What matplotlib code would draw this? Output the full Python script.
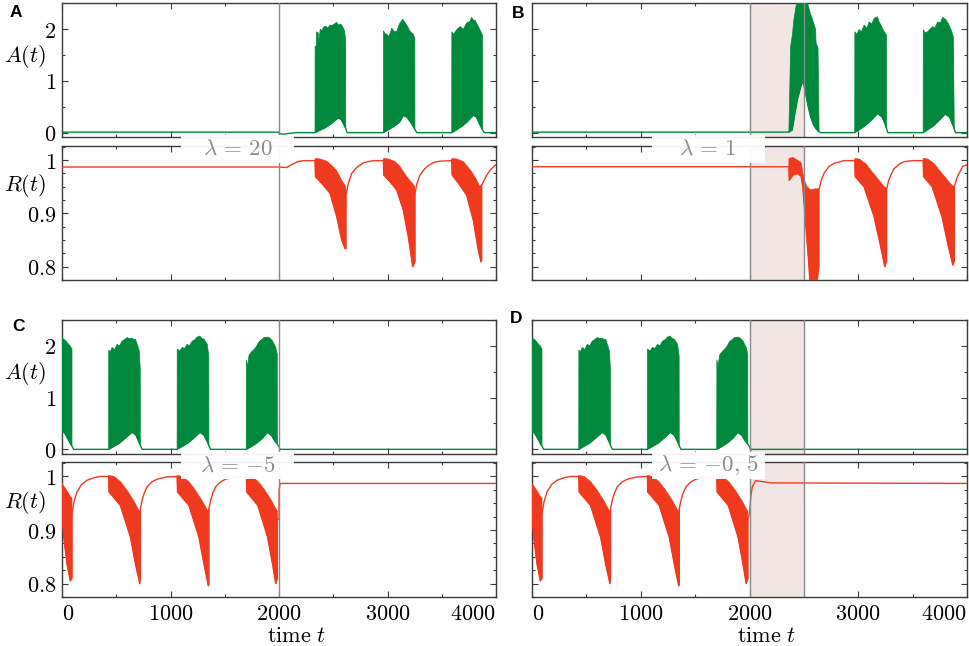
import numpy as np
import matplotlib
matplotlib.use('Agg')
import matplotlib.pyplot as plt
from matplotlib.patches import Rectangle
from matplotlib.ticker import MultipleLocator

plt.rcParams['mathtext.fontset'] = 'cm'
plt.rcParams['font.family'] = 'DejaVu Serif'

GREEN = '#00893c'
RED = '#f03a1f'
SPINE = '#3a3a3a'

# ---------------- panel A (lambda = 20) ----------------
a_amp_t = [0, 1995, 2000, 2030, 2080, 2150, 2332, 2380, 2430, 2480, 2520, 2545, 2570, 2595, 2615, 2628,
           2962, 3010, 3060, 3110, 3146, 3180, 3220, 3253, 3269,
           3592, 3640, 3690, 3740, 3791, 3820, 3850, 3877, 3893, 4010]
a_amp_v = [0.01, 0.01, -0.01, -0.03, -0.02, 0.0, 0.0, 0.05, 0.1, 0.17, 0.24, 0.28, 0.26, 0.17, 0.08, 0.0,
           0.0, 0.06, 0.12, 0.2, 0.33, 0.3, 0.18, 0.06, 0.0,
           0.0, 0.06, 0.13, 0.22, 0.34, 0.3, 0.16, 0.05, 0.0, 0.0]
a_amp_bursts = [
    ([2332, 2333, 2344, 2346, 2362, 2364, 2378, 2380, 2395, 2412, 2430, 2450, 2470, 2490, 2510, 2530, 2550,
      2570, 2590, 2605, 2614, 2615],
     [0.0, 1.67, 1.67, 1.95, 1.93, 1.72, 1.95, 2.0, 1.97, 2.04, 2.06, 2.02, 2.08, 2.07, 2.1, 2.13, 2.08,
      2.1, 2.03, 1.96, 1.77, 0.08]),
    ([2962, 2963, 2975, 2993, 3010, 3025, 3039, 3060, 3085, 3100, 3115, 3140, 3161, 3185, 3207, 3238, 3252, 3253],
     [0.0, 1.97, 1.92, 1.9, 1.86, 1.92, 2.02, 1.96, 1.95, 2.05, 2.12, 2.19, 2.13, 2.05, 1.96, 1.9, 1.82, 0.06]),
    ([3592, 3593, 3610, 3638, 3669, 3700, 3730, 3760, 3776, 3790, 3807, 3838, 3860, 3876, 3877],
     [0.0, 1.95, 1.9, 1.99, 2.05, 2.0, 2.12, 2.15, 2.23, 2.18, 2.17, 2.05, 1.95, 1.88, 0.05]),
]
a_r_t = [0, 2000, 2070, 2120, 2170, 2224, 2332,
         2336, 2400, 2470, 2532, 2578, 2609, 2617, 2617, 2639, 2670, 2716, 2777, 2869, 2962,
         2966, 3020, 3085, 3146, 3192, 3233, 3253, 3253, 3270, 3300, 3340, 3377, 3430, 3484, 3592,
         3596, 3660, 3730, 3791, 3837, 3862, 3868, 3868, 3890, 3915, 3950, 3991, 4010]
a_r_v = [0.987, 0.987, 0.986, 0.992, 0.997, 0.999, 0.999,
         0.969, 0.955, 0.938, 0.894, 0.85, 0.834, 0.834, 0.934, 0.956, 0.975, 0.986, 0.995, 0.999, 0.999,
         0.972, 0.96, 0.944, 0.906, 0.856, 0.80, 0.81, 0.937, 0.955, 0.972, 0.983, 0.99, 0.996, 0.998, 0.999,
         0.972, 0.955, 0.934, 0.887, 0.831, 0.809, 0.812, 0.953, 0.962, 0.972, 0.982, 0.99, 0.992]
a_r_bursts = [
    ([2332, 2333, 2380, 2440, 2485, 2532, 2578, 2610, 2617],
     [0.999, 1.003, 1.002, 0.998, 0.99, 0.98, 0.962, 0.952, 0.945]),
    ([2962, 2963, 3010, 3070, 3115, 3146, 3192, 3230, 3253],
     [0.999, 1.003, 1.002, 0.997, 0.988, 0.978, 0.965, 0.956, 0.95]),
    ([3592, 3593, 3640, 3700, 3745, 3776, 3820, 3852, 3868],
     [0.999, 1.003, 1.002, 0.997, 0.986, 0.978, 0.963, 0.95, 0.955]),
]

# ---------------- panel B (lambda = 1) ----------------
b_amp_t = [0, 2362, 2393, 2420, 2440, 2470, 2491, 2500, 2516, 2540, 2562, 2585, 2608, 2630, 2654,
           2968, 3010, 3060, 3120, 3177, 3220, 3250, 3260, 3272,
           3597, 3640, 3690, 3740, 3800, 3840, 3870, 3883, 3895, 4010]
b_amp_v = [0.01, 0.01, 0.05, 0.4, 0.63, 0.88, 0.99, 0.93, 0.76, 0.5, 0.31, 0.17, 0.085, 0.03, 0.0,
           0.0, 0.06, 0.13, 0.24, 0.37, 0.3, 0.15, 0.08, 0.0,
           0.0, 0.06, 0.13, 0.23, 0.36, 0.3, 0.15, 0.07, 0.0, 0.0]
b_amp_bursts = [
    ([2362, 2370, 2378, 2395, 2408, 2425, 2440, 2525, 2540, 2560, 2580, 2600, 2608, 2612, 2630, 2640],
     [0.01, 0.8, 1.66, 1.9, 2.18, 2.4, 2.6, 2.6, 2.45, 2.3, 2.18, 2.05, 1.99, 1.73, 1.64, 0.02]),
    ([2968, 2969, 2985, 3008, 3030, 3054, 3080, 3100, 3125, 3146, 3177, 3190, 3208, 3238, 3259, 3260],
     [0.0, 1.95, 1.9, 1.99, 1.95, 2.08, 2.02, 2.14, 2.1, 2.21, 2.24, 2.15, 2.08, 1.95, 1.89, 0.08]),
    ([3597, 3598, 3615, 3638, 3660, 3684, 3705, 3730, 3755, 3776, 3807, 3830, 3853, 3875, 3883],
     [0.0, 1.99, 1.93, 1.95, 2.0, 2.05, 2.02, 2.14, 2.12, 2.23, 2.18, 2.1, 1.99, 1.85, 0.07]),
]
b_r_t = [0, 2362, 2366, 2400, 2440, 2475, 2490, 2519, 2547, 2560, 2620, 2630, 2638, 2638,
         2660, 2685, 2730, 2777, 2870, 2968,
         2972, 3053, 3146, 3207, 3244, 3260, 3260, 3280, 3300, 3330, 3380, 3422, 3500, 3597,
         3601, 3680, 3770, 3830, 3870, 3883, 3883, 3910, 3935, 3960, 4010]
b_r_v = [0.9875, 0.9875, 0.962, 0.972, 0.975, 0.97, 0.95, 0.875, 0.80, 0.76, 0.76, 0.79, 0.80, 0.944,
         0.962, 0.975, 0.988, 0.994, 0.999, 0.999,
         0.969, 0.95, 0.894, 0.837, 0.80, 0.81, 0.944, 0.962, 0.972, 0.984, 0.993, 0.997, 0.999, 0.999,
         0.969, 0.95, 0.894, 0.837, 0.803, 0.81, 0.95, 0.968, 0.978, 0.988, 0.992]
b_r_bursts = [
    ([2362, 2363, 2400, 2440, 2475, 2491, 2505, 2530, 2562, 2600, 2638],
     [0.9875, 1.003, 1.005, 1.0, 0.995, 0.975, 0.962, 0.95, 0.944, 0.946, 0.946]),
    ([2968, 2969, 3010, 3070, 3115, 3180, 3238, 3260],
     [0.999, 1.003, 1.002, 0.993, 0.981, 0.965, 0.95, 0.948]),
    ([3597, 3598, 3640, 3700, 3745, 3810, 3865, 3883],
     [0.999, 1.003, 1.002, 0.993, 0.981, 0.965, 0.952, 0.95]),
]

# ---------------- panels C (lambda = -5) and D (lambda = -0,5) ----------------
cd_amp_t = [0, 20, 50, 80, 92, 107, 430, 480, 530, 580, 646, 680, 710, 722, 738,
            1061, 1110, 1160, 1210, 1272, 1310, 1340, 1354, 1370,
            1699, 1750, 1800, 1850, 1892, 1930, 1965, 1985, 2000, 2010, 4010]
cd_amp_v = [0.34, 0.33, 0.22, 0.1, 0.06, 0.0, 0.0, 0.06, 0.12, 0.21, 0.33, 0.28, 0.14, 0.08, 0.0,
            0.0, 0.06, 0.12, 0.21, 0.33, 0.27, 0.14, 0.07, 0.0,
            0.0, 0.06, 0.13, 0.22, 0.33, 0.27, 0.15, 0.1, 0.05, 0.0, 0.0]
cd_amp_bursts = [
    ([0, 15, 30, 45, 61, 75, 83, 92],
     [2.16, 2.13, 2.11, 2.07, 2.03, 2.0, 1.97, 1.94]),
    ([430, 431, 445, 461, 485, 508, 530, 554, 575, 600, 625, 646, 665, 677, 698, 712, 721, 722],
     [0.0, 1.92, 1.88, 1.97, 1.93, 2.03, 2.0, 2.09, 2.12, 2.16, 2.14, 2.15, 2.12, 2.13, 2.0, 1.9, 1.55, 0.08]),
    ([1061, 1062, 1085, 1108, 1130, 1154, 1175, 1200, 1225, 1246, 1271, 1290, 1308, 1339, 1353, 1354],
     [0.0, 1.94, 1.9, 1.97, 1.95, 2.03, 2.0, 2.09, 2.12, 2.17, 2.19, 2.14, 2.13, 2.03, 1.8, 0.07]),
    ([1699, 1700, 1712, 1724, 1745, 1770, 1790, 1816, 1840, 1862, 1893, 1915, 1939, 1970, 1984, 1985],
     [0.0, 1.73, 1.6, 1.82, 1.88, 1.93, 1.98, 2.08, 2.12, 2.16, 2.17, 2.15, 2.1, 1.97, 1.84, 0.1]),
]
cd_r_t = [0, 20, 46, 77, 92, 92, 110, 138, 180, 231, 300, 354, 430,
          434, 538, 631, 677, 717, 722, 722, 740, 760, 785, 830, 877, 960, 1061,
          1065, 1170, 1262, 1308, 1349, 1354, 1354, 1372, 1392, 1417, 1462, 1509, 1590, 1699,
          1703, 1805, 1895, 1940, 1970, 1985]
cd_r_v = [0.924, 0.88, 0.837, 0.805, 0.81, 0.93, 0.952, 0.971, 0.985, 0.993, 0.998, 1.0, 1.0,
          0.971, 0.946, 0.887, 0.837, 0.80, 0.81, 0.94, 0.957, 0.97, 0.981, 0.99, 0.995, 0.999, 1.0,
          0.971, 0.946, 0.887, 0.837, 0.796, 0.80, 0.94, 0.957, 0.97, 0.981, 0.99, 0.995, 0.999, 1.0,
          0.971, 0.946, 0.887, 0.837, 0.80, 0.81]
c_r_tail_t = [1985, 2000, 2001, 2010, 4010]
c_r_tail_v = [0.92, 0.92, 0.975, 0.987, 0.987]
d_r_tail_t = [1985, 2000, 2012, 2025, 2055, 2101, 2193, 4010]
d_r_tail_v = [0.92, 0.93, 0.962, 0.98, 0.992, 0.991, 0.988, 0.987]
cd_r_bursts = [
    ([0, 40, 70, 92], [0.987, 0.975, 0.965, 0.959]),
    ([430, 431, 480, 540, 600, 660, 708, 722], [1.0, 1.002, 1.0, 0.99, 0.974, 0.955, 0.937, 0.935]),
    ([1061, 1062, 1110, 1170, 1230, 1290, 1340, 1354], [1.0, 1.002, 1.0, 0.99, 0.974, 0.955, 0.937, 0.935]),
    ([1699, 1700, 1750, 1810, 1870, 1930, 1970, 1985], [1.0, 1.002, 1.0, 0.99, 0.974, 0.955, 0.94, 0.935]),
]

lam_labels = [r'$\lambda\,=\,20$', r'$\lambda\,=\,1$', r'$\lambda\,=\,{-}5$', r'$\lambda\,=\,{-}0,\,5$']
panel_letters = ['A', 'B', 'C', 'D']
amp_ticks = [0, 1, 2]
r_ticks = [0.8, 0.9, 1.0]
time_ticks = [0, 1000, 2000, 3000, 4000]
SWITCH_T = 2000
WINDOW_T = 2500

W, H = 969, 646
fig = plt.figure(figsize=(W / 100, H / 100), dpi=100)


def px_box(x0, y0, x1, y1):
    # pixel box (top-left origin) -> figure fraction rect
    return [x0 / W, 1 - y1 / H, (x1 - x0) / W, (y1 - y0) / H]


def draw_series(ax, t, v, bursts, color):
    t = np.asarray(t, float)
    v = np.asarray(v, float)
    for bt, bv in bursts:
        m = (t >= bt[0]) & (t <= bt[-1])
        px = np.concatenate([bt, t[m][::-1]])
        py = np.concatenate([bv, v[m][::-1]])
        ax.fill(px, py, color=color, lw=0.5, zorder=3)
    ax.plot(t, v, color=color, lw=1.0, zorder=3)


def style(ax, bottom_labels):
    ax.set_xlim(0, 4000)
    ax.xaxis.set_minor_locator(MultipleLocator(500))
    ax.set_xticks(time_ticks)
    if bottom_labels:
        labs = ax.set_xticklabels([f'${v}$' for v in time_ticks], fontsize=16)
        labs[0].set_ha('left')
        labs[-1].set_ha('right')
    else:
        ax.set_xticklabels([])
    ax.tick_params(which='both', direction='in', top=True, right=True, color=SPINE, pad=4)
    ax.tick_params(which='major', length=4, width=0.8)
    ax.tick_params(which='minor', length=2.5, width=0.8)
    for s in ax.spines.values():
        s.set_color(SPINE)
        s.set_linewidth(1.0)


cols = [(62, 496), (532, 967)]
rows = [((3.3, 137.3), (145.7, 280)), ((320, 454), (462, 597))]

panels = [
    (a_amp_t, a_amp_v, a_amp_bursts, a_r_t, a_r_v, a_r_bursts),
    (b_amp_t, b_amp_v, b_amp_bursts, b_r_t, b_r_v, b_r_bursts),
    (cd_amp_t, cd_amp_v, cd_amp_bursts, cd_r_t + c_r_tail_t, cd_r_v + c_r_tail_v, cd_r_bursts),
    (cd_amp_t, cd_amp_v, cd_amp_bursts, cd_r_t + d_r_tail_t, cd_r_v + d_r_tail_v, cd_r_bursts),
]
letter_pos = [(15.5, 12.5), (518, 14), (18.5, 326.5), (516, 319)]

for i, (at, av, ab, rt, rv, rb) in enumerate(panels):
    r, c = divmod(i, 2)
    x0, x1 = cols[c]
    (ty0, ty1), (by0, by1) = rows[r]
    ax_a = fig.add_axes(px_box(x0, ty0, x1, ty1))
    ax_r = fig.add_axes(px_box(x0, by0, x1, by1))

    for ax in (ax_a, ax_r):
        if c == 1:
            ax.axvspan(SWITCH_T, WINDOW_T, color='#f2e6e5', lw=0, zorder=0)
            ax.axvline(WINDOW_T, color='#8a8a8a', lw=1.0, zorder=4)
        ax.axvline(SWITCH_T, color='#8a8a8a', lw=1.0, zorder=4)

    draw_series(ax_a, at, av, ab, GREEN)
    draw_series(ax_r, rt, rv, rb, RED)

    ax_a.set_ylim(-0.09, 2.5)
    ax_a.set_yticks(amp_ticks)
    ax_a.yaxis.set_minor_locator(MultipleLocator(0.5))
    ax_r.set_ylim(0.775, 1.027)
    ax_r.set_yticks(r_ticks)
    ax_r.yaxis.set_minor_locator(MultipleLocator(0.025))

    style(ax_a, False)
    style(ax_r, r == 1)

    if c == 0:
        ax_a.set_yticklabels([f'${v:g}$' for v in amp_ticks], fontsize=16)
        ax_r.set_yticklabels([f'${v:g}$' for v in r_ticks], fontsize=16)
        ax_a.set_ylabel('$A(t)$', fontsize=16, rotation=0, ha='center', va='center')
        ax_a.yaxis.set_label_coords(-0.085, 0.6)
        ax_r.set_ylabel('$R(t)$', fontsize=16, rotation=0, ha='center', va='center')
        ax_r.yaxis.set_label_coords(-0.085, 0.7)
    else:
        ax_a.set_yticklabels([])
        ax_r.set_yticklabels([])

    if r == 1:
        ax_r.set_xlabel(r'$\mathrm{time}\ t$', fontsize=16)
        ax_r.xaxis.set_label_coords(0.54, -0.29)
        ax_r.xaxis.label.set_va('center')

    # lambda label box bridging the two axes
    cx = x0 + 0.405 * (x1 - x0)
    cy = (ty1 + by0) / 2 + 7.5
    fig.add_artist(Rectangle(((cx - 56.5) / W, 1 - (cy + 13.5) / H), 113 / W, 27 / H,
                             transform=fig.transFigure, facecolor='white', edgecolor='none',
                             alpha=0.95, zorder=5))
    fig.text(cx / W, 1 - cy / H, lam_labels[i], fontsize=16.5, color='#8c8c8c',
             ha='center', va='center', zorder=6)

    lx, ly = letter_pos[i]
    fig.text(lx / W, 1 - ly / H, panel_letters[i], fontsize=12.5, fontweight='bold',
             family='Liberation Sans', ha='center', va='center')

fig.savefig('out.png', dpi=100)
